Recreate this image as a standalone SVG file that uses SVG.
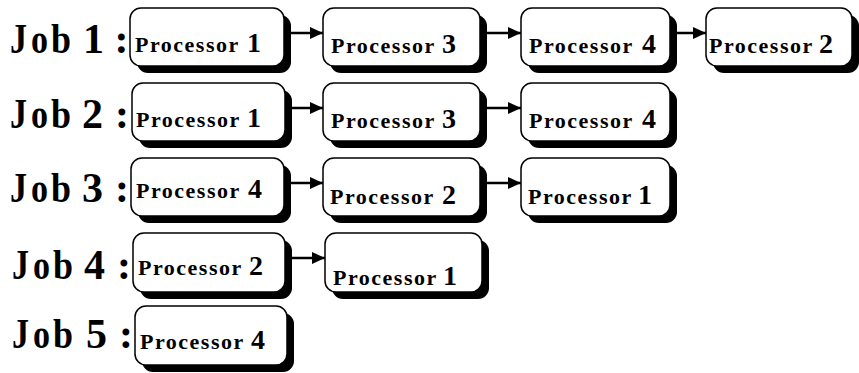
<svg xmlns="http://www.w3.org/2000/svg" width="859" height="373" viewBox="0 0 859 373">
<style>
.box{fill:#fff;stroke:#000;stroke-width:1.5}
.sh{fill:#000}
.job{font-family:"Liberation Serif",serif;font-weight:bold;font-size:42px;fill:#000}
.pt{font-family:"Liberation Serif",serif;font-weight:bold;font-size:22px;fill:#000}
.pw{letter-spacing:1.5px}
.sp{font-size:1px;letter-spacing:0}
.num{font-size:28px;letter-spacing:0}
.con{stroke:#000;stroke-width:2.5;fill:none}
</style>
<defs>
<marker id="ah" markerUnits="userSpaceOnUse" markerWidth="14" markerHeight="14" refX="13" refY="6" orient="auto">
<polygon points="0,0 13,6 0,12" fill="#000"/>
</marker>
</defs>
<g id="labels">
<text class="job" y="53"><tspan x="10" textLength="17" lengthAdjust="spacingAndGlyphs">J</tspan><tspan x="31" textLength="17" lengthAdjust="spacingAndGlyphs">o</tspan><tspan x="51" textLength="20" lengthAdjust="spacingAndGlyphs">b</tspan><tspan class="sp" x="74"> </tspan><tspan x="83">1</tspan><tspan x="114.5">:</tspan></text>
<text class="job" y="128"><tspan x="10" textLength="17" lengthAdjust="spacingAndGlyphs">J</tspan><tspan x="31" textLength="17" lengthAdjust="spacingAndGlyphs">o</tspan><tspan x="51" textLength="20" lengthAdjust="spacingAndGlyphs">b</tspan><tspan class="sp" x="74"> </tspan><tspan x="82">2</tspan><tspan x="115">:</tspan></text>
<text class="job" y="202"><tspan x="10" textLength="17" lengthAdjust="spacingAndGlyphs">J</tspan><tspan x="31" textLength="17" lengthAdjust="spacingAndGlyphs">o</tspan><tspan x="51" textLength="20" lengthAdjust="spacingAndGlyphs">b</tspan><tspan class="sp" x="74"> </tspan><tspan x="82">3</tspan><tspan x="115">:</tspan></text>
<text class="job" y="279"><tspan x="12" textLength="17" lengthAdjust="spacingAndGlyphs">J</tspan><tspan x="33" textLength="17" lengthAdjust="spacingAndGlyphs">o</tspan><tspan x="53" textLength="20" lengthAdjust="spacingAndGlyphs">b</tspan><tspan class="sp" x="76"> </tspan><tspan x="84">4</tspan><tspan x="117">:</tspan></text>
<text class="job" y="348"><tspan x="12" textLength="17" lengthAdjust="spacingAndGlyphs">J</tspan><tspan x="33" textLength="17" lengthAdjust="spacingAndGlyphs">o</tspan><tspan x="53" textLength="20" lengthAdjust="spacingAndGlyphs">b</tspan><tspan class="sp" x="76"> </tspan><tspan x="86">5</tspan><tspan x="119">:</tspan></text>
</g>
<g id="connectors">
<line class="con" x1="290" y1="33" x2="323" y2="33" marker-end="url(#ah)"/>
<line class="con" x1="486" y1="33" x2="521" y2="33" marker-end="url(#ah)"/>
<line class="con" x1="666" y1="33" x2="706" y2="33" marker-end="url(#ah)"/>
<line class="con" x1="290" y1="108" x2="323" y2="108" marker-end="url(#ah)"/>
<line class="con" x1="486" y1="108" x2="521" y2="108" marker-end="url(#ah)"/>
<line class="con" x1="290" y1="183" x2="323" y2="183" marker-end="url(#ah)"/>
<line class="con" x1="486" y1="183" x2="521" y2="183" marker-end="url(#ah)"/>
<line class="con" x1="290" y1="258" x2="325" y2="258" marker-end="url(#ah)"/>
</g>
<g id="j1p1"><rect class="sh" x="137" y="15" width="154" height="58" rx="11"/><rect class="box" x="130" y="8" width="154" height="58" rx="11"/><text class="pt" x="135" y="52"><tspan class="pw">Processor</tspan><tspan class="sp"> </tspan><tspan class="num" dx="7">1</tspan></text></g>
<g id="j1p3"><rect class="sh" x="330" y="15" width="157" height="58" rx="11"/><rect class="box" x="323" y="8" width="157" height="58" rx="11"/><text class="pt" x="331" y="53"><tspan class="pw">Processor</tspan><tspan class="sp"> </tspan><tspan class="num" dx="6">3</tspan></text></g>
<g id="j1p4"><rect class="sh" x="528" y="15" width="149" height="58" rx="11"/><rect class="box" x="521" y="8" width="149" height="58" rx="11"/><text class="pt" x="529" y="53"><tspan class="pw">Processor</tspan><tspan class="sp"> </tspan><tspan class="num" dx="8">4</tspan></text></g>
<g id="j1p2"><rect class="sh" x="713" y="15" width="146" height="58" rx="11"/><rect class="box" x="706" y="8" width="146" height="58" rx="11"/><text class="pt" x="709" y="53"><tspan class="pw">Processor</tspan><tspan class="sp"> </tspan><tspan class="num" dx="5">2</tspan></text></g>
<g id="j2p1"><rect class="sh" x="139" y="90" width="153" height="58" rx="11"/><rect class="box" x="132" y="83" width="153" height="58" rx="11"/><text class="pt" x="136" y="127"><tspan class="pw">Processor</tspan><tspan class="sp"> </tspan><tspan class="num" dx="6">1</tspan></text></g>
<g id="j2p3"><rect class="sh" x="330" y="90" width="157" height="58" rx="11"/><rect class="box" x="323" y="83" width="157" height="58" rx="11"/><text class="pt" x="331" y="128"><tspan class="pw">Processor</tspan><tspan class="sp"> </tspan><tspan class="num" dx="6">3</tspan></text></g>
<g id="j2p4"><rect class="sh" x="528" y="90" width="149" height="58" rx="11"/><rect class="box" x="521" y="83" width="149" height="58" rx="11"/><text class="pt" x="529" y="128"><tspan class="pw">Processor</tspan><tspan class="sp"> </tspan><tspan class="num" dx="8">4</tspan></text></g>
<g id="j3p4"><rect class="sh" x="138" y="165" width="153" height="58" rx="11"/><rect class="box" x="131" y="158" width="153" height="58" rx="11"/><text class="pt" x="136" y="198"><tspan class="pw">Processor</tspan><tspan class="sp"> </tspan><tspan class="num" dx="7">4</tspan></text></g>
<g id="j3p2"><rect class="sh" x="330" y="165" width="157" height="58" rx="11"/><rect class="box" x="323" y="158" width="157" height="58" rx="11"/><text class="pt" x="330" y="204"><tspan class="pw">Processor</tspan><tspan class="sp"> </tspan><tspan class="num" dx="7">2</tspan></text></g>
<g id="j3p1"><rect class="sh" x="528" y="165" width="149" height="58" rx="11"/><rect class="box" x="521" y="158" width="149" height="58" rx="11"/><text class="pt" x="528" y="204"><tspan class="pw">Processor</tspan><tspan class="sp"> </tspan><tspan class="num" dx="5">1</tspan></text></g>
<g id="j4p2"><rect class="sh" x="140" y="240" width="152" height="59" rx="11"/><rect class="box" x="133" y="233" width="152" height="59" rx="11"/><text class="pt" x="138" y="275"><tspan class="pw">Processor</tspan><tspan class="sp"> </tspan><tspan class="num" dx="6">2</tspan></text></g>
<g id="j4p1"><rect class="sh" x="332" y="240" width="157" height="59" rx="11"/><rect class="box" x="325" y="233" width="157" height="59" rx="11"/><text class="pt" x="333" y="285"><tspan class="pw">Processor</tspan><tspan class="sp"> </tspan><tspan class="num" dx="5">1</tspan></text></g>
<g id="j5p4"><rect class="sh" x="142" y="313" width="152" height="59" rx="11"/><rect class="box" x="135" y="306" width="152" height="59" rx="11"/><text class="pt" x="140" y="349"><tspan class="pw">Processor</tspan><tspan class="sp"> </tspan><tspan class="num" dx="6">4</tspan></text></g>
</svg>
